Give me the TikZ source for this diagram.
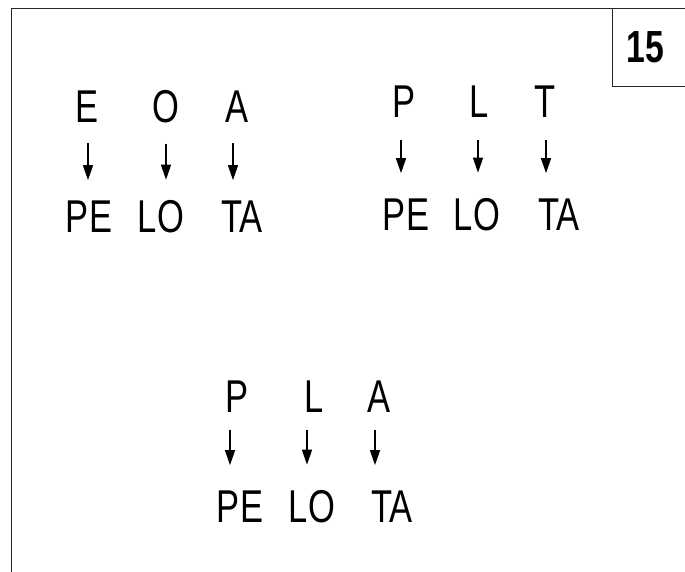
\documentclass[tikz,border=0pt]{standalone}
\usepackage{fontspec}
\usepackage{tikz}
\usetikzlibrary{arrows.meta}
\newfontfamily\slidefont[FakeStretch=0.75]{Liberation Sans}
\tikzset{
  >={Triangle[length=15pt,width=10pt]},
  letter/.style={font=\slidefont\fontsize{46}{50}\selectfont,inner sep=0pt,anchor=base},
  syll/.style={letter},
  down/.style={->,line width=1.4pt,draw=black},
  frameline/.style={line width=1pt,draw=black!85}
}
\begin{document}
\begin{tikzpicture}[x=1pt,y=-1pt]
  \useasboundingbox (0,0) rectangle (685,572);
  % frame and number box
  \draw[frameline] (11,572) -- (11,9) -- (685,9);
  \node[minimum width=72pt,minimum height=77pt,inner sep=0pt] (numbox) at (649,47.5) {};
  \draw[frameline] (numbox.north west) -- (numbox.south west) -- (numbox.south east);
  \node[letter,font=\slidefont\bfseries\fontsize{45}{48}\selectfont] (num) at (645,63) {15};

  % first group
  \node[letter] (e1) at (87,123) {E};
  \node[letter] (o1) at (166,123) {O};
  \node[letter] (a1) at (237,123) {A};
  \node[syll] (pe1) at (89,233) {PE};
  \node[syll] (lo1) at (161,233) {LO};
  \node[syll] (ta1) at (242,233) {TA};
  \draw[down,shorten <=20pt,shorten >=21pt] ([xshift=1pt]e1.south) -- ([xshift=1pt]e1.south |- pe1.north);
  \draw[down,shorten <=20pt,shorten >=21pt] (o1.south) -- (o1.south |- lo1.north);
  \draw[down,shorten <=20pt,shorten >=21pt] ([xshift=-4pt]a1.south) -- ([xshift=-4pt]a1.south |- ta1.north);

  % second group
  \node[letter] (p2) at (404,118) {P};
  \node[letter] (l2) at (479,118) {L};
  \node[letter] (t2) at (545,118) {T};
  \node[syll] (pe2) at (406,230) {PE};
  \node[syll] (lo2) at (477,230) {LO};
  \node[syll] (ta2) at (559,230) {TA};
  \draw[down,shorten <=22pt,shorten >=25pt] ([xshift=-3pt]p2.south) -- ([xshift=-3pt]p2.south |- pe2.north);
  \draw[down,shorten <=22pt,shorten >=25pt] ([xshift=-1pt]l2.south) -- ([xshift=-1pt]l2.south |- lo2.north);
  \draw[down,shorten <=22pt,shorten >=25pt] ([xshift=1pt]t2.south) -- ([xshift=1pt]t2.south |- ta2.north);

  % third group
  \node[letter] (p3) at (237,412) {P};
  \node[letter] (l3) at (314,412) {L};
  \node[letter] (a3) at (379,412) {A};
  \node[syll] (pe3) at (240,522) {PE};
  \node[syll] (lo3) at (312,522) {LO};
  \node[syll] (ta3) at (392,522) {TA};
  \draw[down,shorten <=18pt,shorten >=25pt] ([xshift=-7pt]p3.south) -- ([xshift=-7pt]p3.south |- pe3.north);
  \draw[down,shorten <=18pt,shorten >=25pt] ([xshift=-7pt]l3.south) -- ([xshift=-7pt]l3.south |- lo3.north);
  \draw[down,shorten <=18pt,shorten >=25pt] ([xshift=-4pt]a3.south) -- ([xshift=-4pt]a3.south |- ta3.north);
\end{tikzpicture}
\end{document}
